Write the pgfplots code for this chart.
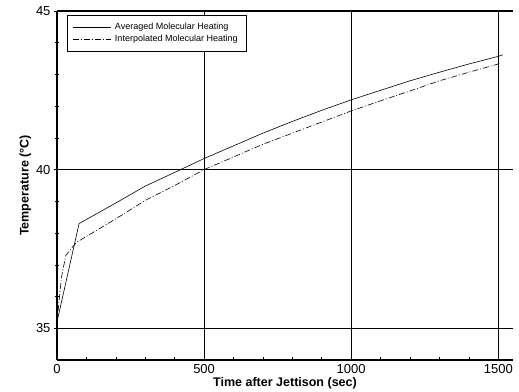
\documentclass[border=0pt]{standalone}
\usepackage{pgfplots}
\pgfplotsset{compat=1.18}
\usepackage{fontspec}
\setmainfont{Liberation Sans}
\begin{document}
\begin{tikzpicture}[x=1pt,y=1pt]
\begin{axis}[
  scale only axis, width=456pt, height=349pt,
  xmin=0, xmax=1550, ymin=34, ymax=45,
  xtick={0,500,1000,1500}, ytick={35,40,45},
  minor x tick num=4, minor y tick num=4,
  tick align=inside, xtick pos=bottom, ytick pos=left,
  major tick length=6pt, minor tick length=3.5pt,
  axis x line=box, axis y line=left,
  axis line style={-, line width=1.2pt},
  every tick/.style={black, line width=0.6pt},
  grid=major, major grid style={black, line width=0.5pt},
  ticklabel style={font=\fontsize{13}{15}\selectfont},
  xticklabel style={inner ysep=0pt, yshift=-4pt},
  /pgf/number format/assume math mode=true,
  /pgf/number format/set thousands separator={},
  xlabel={\textbf{Time after Jettison (sec)}},
  ylabel={\textbf{Temperature (°C)}},
  label style={font=\fontsize{12.5}{14}\selectfont},
  xlabel style={at={(axis description cs:0.5,0)}, anchor=north, inner sep=0pt, yshift=-17pt},
  ylabel style={yshift=-2pt},
  legend style={at={(axis cs:35,44.87)}, anchor=north west, draw=black, line width=0.4pt,
    font=\fontsize{9}{11}\selectfont, row sep=0pt, inner xsep=5pt, inner ysep=6pt,
    nodes={inner xsep=4pt, inner ysep=2pt},
    legend cell align=left},
  legend image post style={line width=0.5pt},
  legend image code/.code={\draw[#1] (0pt,0pt) -- (38pt,0pt);},
]
\addplot[black, line width=0.6pt] coordinates {
(0,35.2) (75,38.3) (200,38.95) (300,39.48) (420,40.0) (500,40.35) (600,40.75)
(700,41.15) (800,41.52) (900,41.87) (1000,42.2) (1100,42.5) (1200,42.8)
(1300,43.07) (1400,43.33) (1500,43.57) (1515,43.62)};
\addlegendentry{Averaged Molecular Heating}
\addplot[black, line width=0.6pt, dash pattern=on 6pt off 2pt on 1pt off 2pt] coordinates {
(0,35.2) (15,36.6) (30,37.3) (65,37.7) (200,38.45) (300,39.03) (400,39.5) (500,40.0)
(600,40.4) (700,40.8) (800,41.15) (900,41.5) (1000,41.85) (1100,42.17) (1200,42.48)
(1300,42.8) (1400,43.07) (1500,43.33) (1505,43.35)};
\addlegendentry{Interpolated Molecular Heating}
\end{axis}
\useasboundingbox (current axis.south west) ++(-57pt,-31pt) rectangle ++(519pt,391pt);
\end{tikzpicture}
\end{document}
